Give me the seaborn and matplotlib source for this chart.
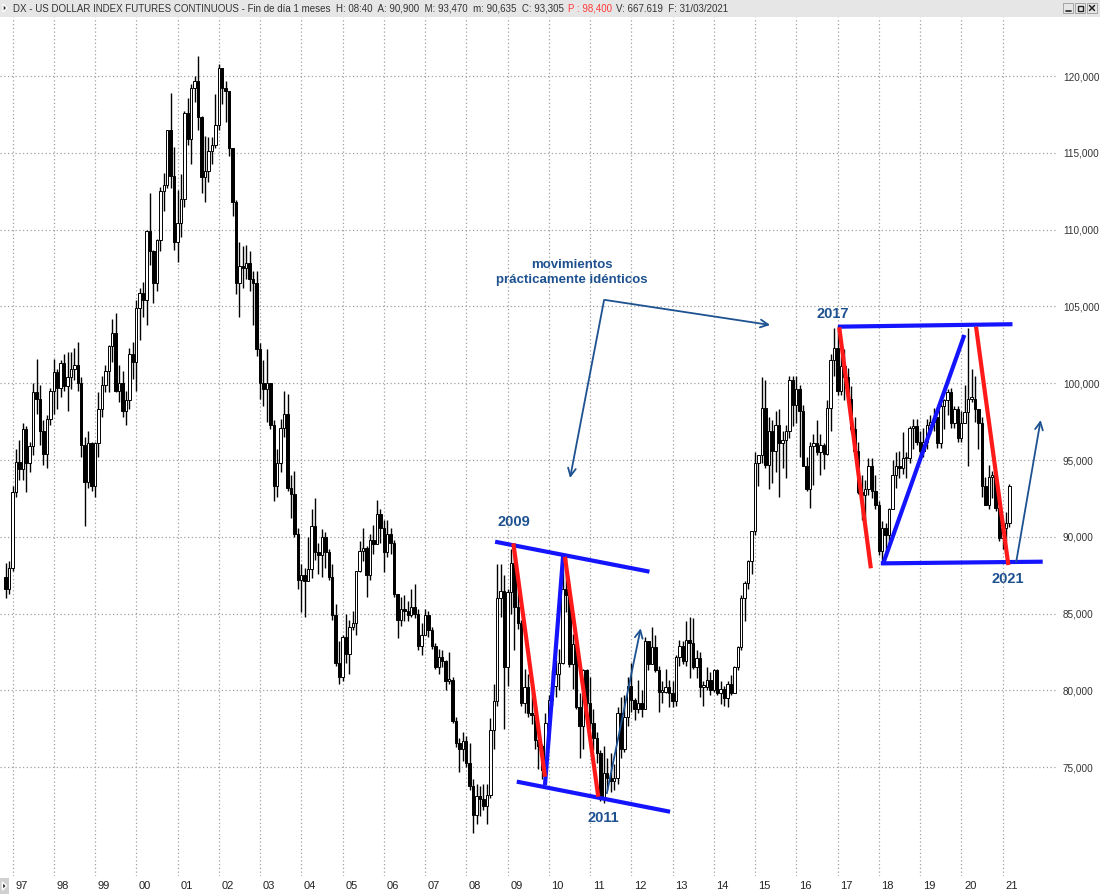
import numpy as np
import pandas as pd
import matplotlib
matplotlib.use("Agg")
import matplotlib.pyplot as plt
import seaborn as sns
from matplotlib.transforms import blended_transform_factory
from matplotlib.patches import Rectangle, Polygon

# ---------------- data (monthly, Nov 1996 .. Mar 2021) ----------------
first_open = 87.4

closes = [
    86.6, 88.0,
    92.9, 94.9, 94.4, 97.0, 94.8, 95.9, 99.4, 99.0, 96.9, 95.4, 97.7, 99.5,
    100.7, 99.7, 101.3, 99.8, 100.4, 100.9, 101.2, 100.0, 96.0, 93.6, 96.1, 93.3,
    96.1, 98.3, 99.9, 100.8, 102.4, 103.3, 99.5, 100.0, 98.2, 98.9, 101.9, 101.4,
    104.9, 105.9, 105.4, 109.9, 108.6, 106.5, 109.3, 112.5, 112.9, 116.5, 113.5, 109.2,
    110.4, 112.0, 117.6, 115.9, 119.2, 119.7, 117.3, 113.4, 113.8, 115.1, 115.5, 116.8,
    120.5, 119.2, 119.0, 115.3, 111.8, 106.5, 107.6, 107.5, 107.8, 106.8, 106.5, 102.2,
    100.0, 99.6, 100.0, 97.3, 93.3, 94.8, 97.1, 98.0, 93.2, 92.8, 90.2, 87.2,
    87.5, 87.1, 87.9, 90.7, 89.0, 88.8, 90.0, 89.0, 87.4, 84.9, 81.8, 80.9,
    83.5, 82.4, 84.1, 84.4, 87.8, 89.1, 89.3, 87.5, 89.8, 89.5, 91.5, 90.6,
    89.0, 90.2, 89.6, 86.3, 84.6, 85.3, 85.2, 84.9, 85.4, 85.0, 82.9, 83.6,
    84.9, 83.9, 82.9, 81.5, 82.2, 81.9, 80.6, 80.7, 78.0, 76.6, 76.2, 76.7,
    75.3, 73.8, 71.9, 73.1, 72.9, 72.5, 73.2, 77.4, 79.3, 86.0, 86.5, 81.5,
    86.4, 88.3, 85.4, 84.4, 79.2, 80.2, 78.5, 78.4, 76.8, 76.4, 74.8, 77.9,
    79.4, 80.3, 81.1, 81.8, 86.6, 86.2, 81.7, 83.0, 78.9, 77.7, 81.3, 79.2,
    77.9, 76.9, 75.9, 73.0, 74.6, 74.3, 74.1, 74.3, 78.5, 76.2, 78.3, 80.3,
    79.4, 78.8, 79.2, 78.8, 83.2, 81.7, 82.8, 81.3, 79.9, 79.9, 80.2, 79.8,
    79.3, 82.2, 82.9, 81.9, 83.3, 83.1, 81.5, 82.1, 80.2, 80.2, 80.7, 80.0,
    81.3, 79.8, 80.1, 79.5, 80.4, 79.8, 81.5, 82.8, 86.0, 87.0, 88.4, 90.4,
    94.8, 95.3, 98.4, 94.7, 96.9, 95.6, 97.3, 96.1, 96.3, 96.9, 100.2, 98.6,
    99.6, 98.2, 94.6, 93.1, 95.9, 96.1, 95.5, 96.0, 95.4, 98.4, 101.5, 102.3,
    99.5, 101.1, 100.4, 99.0, 97.0, 95.6, 92.9, 92.7, 93.1, 94.6, 93.0, 92.1,
    89.1, 90.6, 90.1, 91.8, 94.0, 94.6, 94.5, 95.1, 95.1, 97.1, 97.2, 96.2,
    95.6, 96.2, 97.3, 97.5, 97.8, 96.1, 98.5, 98.9, 99.4, 97.4, 98.3, 96.4,
    97.4, 98.1, 99.0, 99.0, 98.3, 97.4, 93.3, 92.1, 93.9, 94.0, 91.9, 89.9,
    90.6, 90.9, 93.305,
]

highs = [
    88.3, 88.4,
    93.3, 95.7, 96.3, 97.4, 97.2, 96.2, 100.0, 101.6, 99.9, 97.6, 97.9, 99.7,
    101.6, 100.9, 101.5, 101.9, 102.0, 102.0, 102.3, 102.7, 100.4, 96.5, 96.9, 96.2,
    96.2, 99.4, 100.5, 101.2, 102.5, 104.2, 104.6, 101.2, 100.8, 99.5, 102.3, 102.7,
    105.4, 106.2, 106.6, 110.0, 112.4, 108.7, 109.4, 112.8, 113.7, 116.5, 118.9, 115.4,
    112.6, 113.6, 117.7, 118.6, 119.5, 120.0, 121.3, 117.4, 116.1, 116.0, 116.0, 118.8,
    120.8, 120.4, 119.7, 119.0, 115.3, 111.9, 109.2, 108.9, 109.0, 108.6, 107.3, 107.3,
    102.6, 101.5, 102.2, 100.0, 97.6, 95.7, 97.7, 99.5, 99.3, 94.0, 94.3, 90.6,
    88.2, 88.0, 90.0, 91.8, 92.5, 89.6, 90.5, 90.3, 89.2, 88.2, 85.6, 83.2,
    83.6, 85.0, 84.6, 85.2, 87.8, 89.7, 90.6, 89.4, 90.2, 90.8, 92.4, 91.8,
    91.1, 91.1, 90.6, 89.8, 86.3, 86.1, 86.2, 85.8, 86.6, 86.9, 85.3, 84.4,
    85.3, 85.2, 84.1, 83.1, 82.7, 82.6, 82.0, 82.5, 80.9, 78.3, 76.9, 77.3,
    77.0, 76.6, 74.2, 73.9, 73.8, 73.9, 73.9, 78.2, 80.4, 88.2, 88.2, 87.5,
    86.6, 89.2, 89.6, 87.0, 84.6, 81.4, 81.1, 79.9, 78.8, 77.8, 76.5, 78.5,
    79.7, 81.3, 82.0, 82.7, 88.0, 88.8, 86.2, 83.7, 83.4, 79.8, 81.4, 81.4,
    80.9, 78.8, 77.3, 76.1, 76.4, 75.6, 75.9, 75.2, 78.9, 79.6, 79.7, 80.9,
    81.8, 79.5, 80.7, 80.0, 83.5, 83.2, 84.1, 83.6, 81.6, 80.6, 81.4, 80.7,
    80.6, 82.3, 83.3, 83.2, 84.5, 84.8, 84.7, 82.6, 82.5, 80.6, 81.5, 81.2,
    81.4, 81.4, 80.6, 80.3, 80.6, 81.0, 81.6, 82.9, 86.2, 87.1, 88.5, 90.4,
    95.5, 95.3, 100.4, 100.2, 97.8, 97.6, 98.2, 98.3, 96.9, 97.3, 100.5, 100.5,
    100.5, 99.9, 98.6, 95.2, 96.2, 96.7, 97.6, 96.7, 96.1, 98.9, 101.9, 103.6,
    103.8, 101.8, 102.2, 101.0, 99.8, 97.8, 96.2, 94.0, 93.7, 95.1, 95.1, 94.0,
    92.3, 91.0, 90.9, 91.9, 95.0, 95.5, 95.6, 96.8, 95.5, 97.2, 97.7, 97.7,
    96.9, 97.1, 97.7, 97.9, 98.4, 97.7, 98.7, 99.0, 99.6, 99.7, 98.5, 98.5,
    98.2, 99.9, 103.6, 100.9, 100.5, 98.2, 97.8, 93.9, 94.7, 94.3, 94.3, 92.0,
    91.0, 91.6, 93.47,
]

lows = [
    86.0, 86.3,
    87.8, 92.6, 93.7, 93.7, 92.9, 94.2, 95.3, 98.0, 96.0, 94.7, 94.5, 97.3,
    98.0, 98.3, 99.1, 99.5, 98.2, 99.6, 100.2, 99.5, 95.2, 90.7, 93.2, 93.0,
    92.6, 95.2, 97.8, 99.4, 99.4, 101.4, 99.4, 98.8, 97.8, 97.3, 98.3, 100.3,
    99.5, 102.8, 104.3, 103.8, 107.7, 105.2, 106.0, 108.6, 111.2, 112.7, 112.7, 108.7,
    107.9, 109.5, 111.5, 115.5, 114.3, 118.3, 116.5, 112.4, 111.8, 113.1, 114.3, 115.3,
    116.5, 118.2, 117.0, 114.8, 110.9, 105.8, 104.3, 106.2, 106.8, 106.0, 103.8, 101.8,
    99.0, 98.5, 97.5, 97.0, 92.3, 92.6, 94.2, 96.5, 93.0, 91.2, 90.0, 86.6,
    85.1, 84.8, 87.1, 87.3, 88.5, 87.6, 87.4, 88.0, 87.2, 84.6, 81.6, 80.4,
    80.6, 81.8, 81.1, 83.9, 83.6, 87.7, 88.4, 86.1, 87.2, 88.9, 89.6, 89.6,
    87.7, 88.7, 88.9, 86.1, 83.4, 84.2, 84.5, 84.5, 84.8, 84.7, 82.6, 82.3,
    83.6, 83.5, 82.7, 81.4, 81.1, 81.5, 80.0, 80.4, 77.9, 76.3, 74.7, 75.4,
    75.0, 73.5, 70.7, 71.3, 71.8, 72.2, 71.3, 73.0, 76.2, 79.0, 84.8, 77.5,
    80.3, 85.0, 82.6, 84.0, 79.0, 78.5, 78.3, 77.8, 76.2, 74.9, 74.2, 74.2,
    76.8, 79.0, 79.6, 80.0, 81.7, 85.1, 81.5, 80.1, 78.8, 75.6, 76.2, 78.8,
    77.5, 76.1, 75.3, 72.8, 72.7, 73.5, 73.4, 73.5, 73.9, 75.6, 76.0, 77.7,
    78.6, 78.1, 78.5, 78.3, 78.8, 81.3, 81.9, 81.2, 78.6, 79.2, 79.8, 78.9,
    78.9, 79.0, 81.6, 81.7, 81.6, 80.8, 81.4, 80.8, 79.6, 79.0, 80.0, 79.7,
    79.9, 79.7, 79.1, 79.0, 78.9, 79.7, 79.8, 81.3, 82.6, 84.5, 86.6, 87.6,
    90.1, 93.3, 94.8, 94.5, 93.1, 93.5, 94.2, 92.6, 94.5, 93.8, 96.4, 97.2,
    97.4, 95.2, 94.6, 93.0, 91.9, 93.4, 95.3, 94.0, 94.4, 95.3, 96.9, 100.5,
    99.2, 99.2, 98.9, 98.8, 96.8, 95.5, 92.8, 91.1, 91.0, 92.7, 92.5, 91.8,
    88.8, 88.3, 89.0, 89.4, 91.8, 93.2, 93.8, 94.1, 93.8, 94.8, 95.7, 96.0,
    95.0, 95.2, 95.7, 96.7, 96.9, 95.8, 95.8, 97.0, 97.9, 97.1, 97.1, 96.2,
    96.2, 97.4, 94.6, 98.8, 97.5, 95.7, 92.6, 92.1, 91.8, 92.5, 91.7, 89.7,
    89.2, 89.7, 90.635,
]

year_labels = ["97", "98", "99", "00", "01", "02", "03", "04", "05", "06", "07", "08",
               "09", "10", "11", "12", "13", "14", "15", "16", "17", "18", "19", "20", "21"]
price_ticks = [75, 80, 85, 90, 95, 100, 105, 110, 115, 120]

# annotation anchors (month index, price)
blue_lines = [((142.4, 89.68), (187.3, 87.73)),
              ((148.7, 74.06), (193.3, 72.10)),
              ((156.9, 73.84), (162.2, 88.81)),
              ((242.2, 103.68), (292.9, 103.84)),
              ((254.6, 88.27), (301.7, 88.38)),
              ((255.3, 88.27), (278.9, 103.14))]
red_lines = [((147.7, 89.58), (156.9, 74.38)),
             ((162.7, 88.70), (172.4, 73.08)),
             ((242.5, 103.64), (251.7, 87.95)),
             ((282.3, 103.68), (291.7, 88.16))]
thin_arrows = [((174.9, 73.30), (184.75, 84.04)),
               ((294.0, 88.38), (301.1, 97.6)),
               ((174.1, 105.42), (164.2, 93.83)),
               ((174.4, 105.42), (222.4, 103.79))]
year_notes = [("2009", 147.9, 90.98), ("2011", 173.8, 71.69),
              ("2017", 240.7, 104.5), ("2021", 291.6, 87.25)]
note_text = ("movimientos\nprácticamente idénticos", 164.8, 107.2)

# ---------------- build frame ----------------
assert len(closes) == len(highs) == len(lows) == 293
df = pd.DataFrame({"close": closes, "high": highs, "low": lows})
df["open"] = [first_open] + closes[:-1]
df["x"] = np.arange(len(df))
df["high"] = df[["high", "open", "close"]].max(axis=1)
df["low"] = df[["low", "open", "close"]].min(axis=1)

# ---------------- figure ----------------
sns.set_theme(style="white")
plt.rcParams['font.family'] = ['Liberation Sans', 'DejaVu Sans']

W, H = 1100, 894
fig = plt.figure(figsize=(11, 8.94), dpi=100)
fig.patch.set_facecolor("white")


def px_rect(l, t, r, b):
    return [l / W, 1 - b / H, (r - l) / W, (b - t) / H]


bg = fig.add_axes([0, 0, 1, 1])
bg.set_xlim(0, W)
bg.set_ylim(H, 0)
bg.axis("off")

ax = fig.add_axes(px_rect(0, 17, 1056, 876))
ax.set_facecolor("white")

px_per_month = 990 / 288.0
x_left = 2 - 12.5 / px_per_month
x_right = 2 + (1056 - 12.5) / px_per_month
ax.set_xlim(x_left, x_right)
ax.set_ylim(120 - (876 - 76) / 15.36, 120 + (76 - 17) / 15.36)

year_pos = [2 + 12 * k for k in range(len(year_labels))]
ax.set_xticks(year_pos)
ax.set_xticklabels([])
ax.set_yticks(price_ticks)
ax.set_yticklabels([f"{v},000" for v in price_ticks])
ax.yaxis.tick_right()
ax.tick_params(axis="y", length=0, pad=5, labelsize=7.2, labelcolor="#333333")
ax.tick_params(axis="x", length=0)
ax.grid(True, linestyle=(0, (1, 2)), color="#a0a0a0", linewidth=0.9)
for s in ax.spines.values():
    s.set_visible(False)

# candles
up = df["close"] >= df["open"]
ax.vlines(df["x"], df["low"], df["high"], color="black", linewidth=1.0, zorder=2)
body_bottom = df[["open", "close"]].min(axis=1)
body_h = (df["close"] - df["open"]).abs().clip(lower=0.12)
ax.bar(df["x"][up], body_h[up], bottom=body_bottom[up], width=0.72,
       color="white", edgecolor="black", linewidth=0.7, zorder=3)
ax.bar(df["x"][~up], body_h[~up], bottom=body_bottom[~up], width=0.72,
       color="black", edgecolor="black", linewidth=0.7, zorder=3)

# x year labels
trans = blended_transform_factory(ax.transData, ax.transAxes)
for p, lab in zip(year_pos, year_labels):
    ax.text(p + 0.8, -0.0116, lab, transform=trans, ha="left", va="center",
            fontsize=8, color="#222222", clip_on=False)

# drawn annotations
for (a, b) in blue_lines:
    ax.plot([a[0], b[0]], [a[1], b[1]], color="#1414ff", lw=3.0,
            solid_capstyle="butt", zorder=5)
for (a, b) in red_lines:
    ax.plot([a[0], b[0]], [a[1], b[1]], color="#ff1a1a", lw=3.0,
            solid_capstyle="butt", zorder=6)
ann_col = "#1d5190"
for (a, b) in thin_arrows:
    ax.annotate("", xy=b, xytext=a,
                arrowprops=dict(arrowstyle="->", color=ann_col, lw=1.3,
                                mutation_scale=14, shrinkA=0, shrinkB=0),
                zorder=7)
for lab, xx, yy in year_notes:
    ax.text(xx, yy, lab, ha="center", va="center", fontsize=10.5,
            fontweight="bold", color=ann_col, zorder=8)
ax.text(note_text[1], note_text[2], note_text[0], ha="center", va="center",
        fontsize=9.5, fontweight="bold", color=ann_col, linespacing=1.25, zorder=8)

# ---------------- title bar ----------------
bg.add_patch(Rectangle((0, 0), W, 16.5, facecolor="#e6e6e6", edgecolor="none", zorder=1))
bg.add_patch(Polygon([(3, 4), (3, 12), (7, 8)], closed=True, facecolor="#333333", zorder=2))
t1 = bg.text(13, 8.5, "DX - US DOLLAR INDEX FUTURES CONTINUOUS - Fin de día 1 meses  H: 08:40  "
             "A: 90,900  M: 93,470  m: 90,635  C: 93,305", fontsize=7, color="#333333",
             ha="left", va="center", zorder=3)
t2 = bg.annotate("P : 98,400", xy=(1, 0), xycoords=t1, xytext=(3, 0),
                 textcoords="offset points", fontsize=7, color="#ff3b3b",
                 ha="left", va="bottom", zorder=3)
t3 = bg.annotate("V: 667.619  F: 31/03/2021", xy=(1, 0), xycoords=t2, xytext=(3, 0),
                 textcoords="offset points", fontsize=7, color="#333333",
                 ha="left", va="bottom", zorder=3)
# window buttons
for i, x0 in enumerate([1063, 1075, 1087]):
    bg.add_patch(Rectangle((x0, 3), 10, 10, facecolor="#e6e6e6", edgecolor="#9a9a9a",
                           linewidth=0.6, zorder=3))
bg.plot([1065.5, 1070.5], [10.5, 10.5], color="#222222", lw=1.2, zorder=4)
bg.add_patch(Rectangle((1077.5, 5.5), 5, 5, facecolor="none", edgecolor="#222222",
                       linewidth=1.0, zorder=4))
bg.plot([1089.5, 1094.5], [5.5, 10.5], color="#222222", lw=1.1, zorder=4)
bg.plot([1089.5, 1094.5], [10.5, 5.5], color="#222222", lw=1.1, zorder=4)

# bottom-left marker
bg.add_patch(Rectangle((0, 878), 9, 16, facecolor="#d0d0d0", edgecolor="none", zorder=1))
bg.add_patch(Polygon([(2.5, 882), (2.5, 890), (6.5, 886)], closed=True,
                     facecolor="#222222", zorder=2))

fig.savefig("out.png", dpi=100, facecolor="white")
